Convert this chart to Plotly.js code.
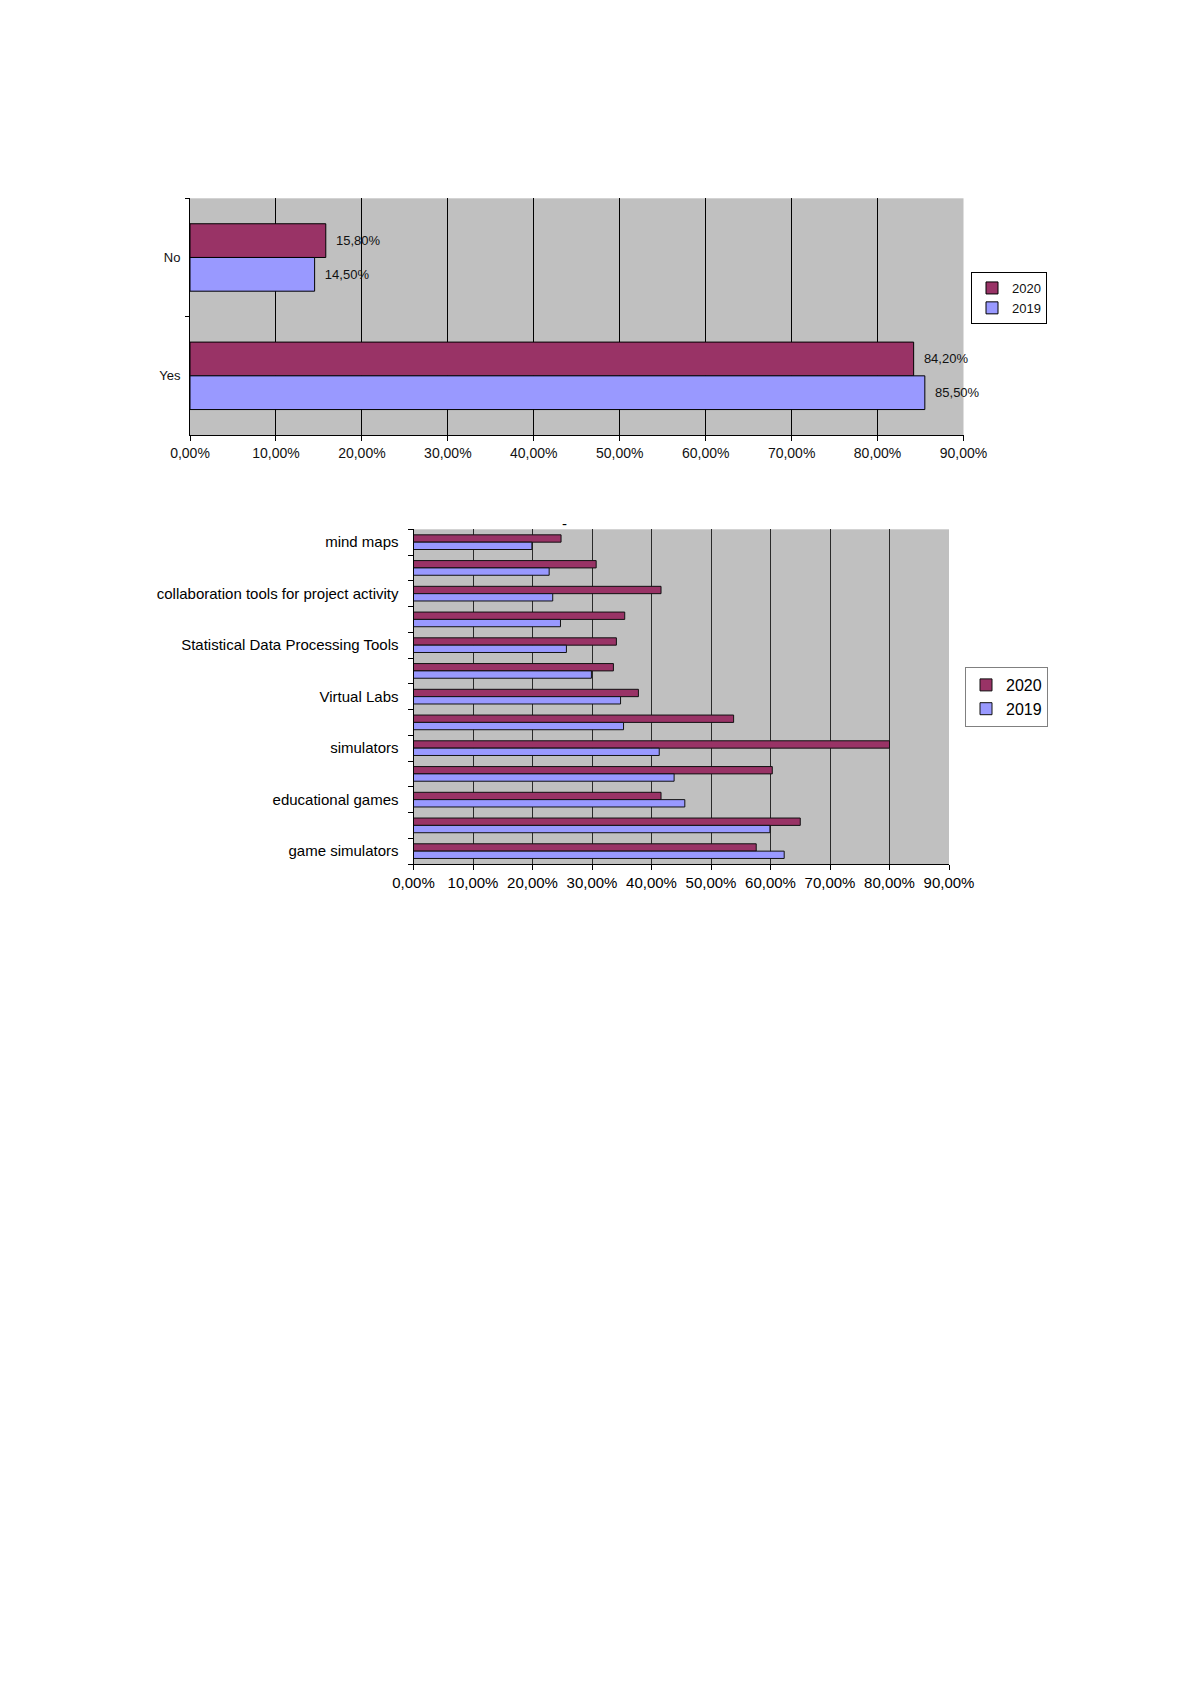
<!DOCTYPE html>
<html>
<head>
<meta charset="utf-8">
<script src="https://cdn.plot.ly/plotly-3.0.1.min.js"></script>
<style>
html,body{margin:0;padding:0;background:#ffffff;}
#chart{width:1191px;height:1684px;}
</style>
</head>
<body>
<div id="chart"></div>
<script>
// ---------- data (percent) ----------
const seriesNames = ["2020", "2019"];
const seriesColors = ["#993366", "#9999FF"];

// Chart 1
const answers = ["No", "Yes"];
const answers2020 = [15.8, 84.2];
const answers2019 = [14.5, 85.5];

// Chart 2 (top to bottom; empty label = category whose name is not printed)
const tools = ["mind maps", "", "collaboration tools for project activity", "",
  "Statistical Data Processing Tools", "", "Virtual Labs", "", "simulators", "",
  "educational games", "", "game simulators"];
const tools2020 = [24.8, 30.7, 41.6, 35.5, 34.1, 33.6, 37.8, 53.8, 80.0, 60.3, 41.6, 65.0, 57.6];
const tools2019 = [19.9, 22.8, 23.4, 24.7, 25.7, 29.9, 34.8, 35.3, 41.3, 43.8, 45.6, 59.9, 62.3];

const xTicks = [0, 10, 20, 30, 40, 50, 60, 70, 80, 90];
const chart2Title = "-";

// ---------- layout helpers ----------
const W = 1191, H = 1684;
const fx = p => p / W;
const fy = p => 1 - p / H;
const FONT = "Liberation Sans, Arial, sans-serif";
const frac = arr => arr.map(v => v / 100);   // percent -> fraction for '%' formatting

const innerTicks = frac(xTicks.slice(1, -1)); // gridlines only inside the plot
const toolIdx = tools.map((_, i) => i);
const toolBounds = tools.map((_, i) => i - 0.5).concat([tools.length - 0.5]);

const traces = [];
const chart1Values = [answers2020, answers2019];
const chart2Values = [tools2020, tools2019];

seriesNames.forEach((name, s) => {
  traces.push({
    type: "bar", orientation: "h", name: name,
    y: answers, x: frac(chart1Values[s]),
    xaxis: "x", yaxis: "y", legend: "legend",
    marker: {color: seriesColors[s], line: {color: "#000000", width: 1}},
    texttemplate: "\u00a0\u00a0%{x:.2%}",
    textposition: "outside",
    textfont: {family: FONT, size: 13, color: "#111111"},
    cliponaxis: false,
    hoverinfo: "x+name"
  });
});
seriesNames.forEach((name, s) => {
  traces.push({
    type: "bar", orientation: "h", name: name,
    y: toolIdx, x: frac(chart2Values[s]),
    xaxis: "x2", yaxis: "y2", legend: "legend2",
    marker: {color: seriesColors[s], line: {color: "#111111", width: 1}},
    hoverinfo: "x+name"
  });
});

const layout = {
  width: W, height: H,
  margin: {l: 0, r: 0, t: 0, b: 0},
  paper_bgcolor: "#ffffff",
  plot_bgcolor: "#C0C0C0",
  separators: ",.",
  barmode: "group",
  bargap: 0.43,
  bargroupgap: 0,
  font: {family: FONT, color: "#000000"},
  showlegend: true,
  xaxis: {
    domain: [fx(190), fx(963.5)], anchor: "y",
    range: [0, 0.9], tickmode: "array", tickvals: frac(xTicks),
    tickformat: ".2%",
    showgrid: false,
    minor: {tickmode: "array", tickvals: innerTicks, ticks: "", showgrid: true,
            gridcolor: "#000000", gridwidth: 1},
    zeroline: false, showline: true, linecolor: "#000000", linewidth: 1,
    ticks: "outside", ticklen: 5, tickcolor: "#000000",
    tickfont: {family: FONT, size: 14, color: "#111111"},
    fixedrange: true
  },
  yaxis: {
    domain: [fy(435), fy(198.3)], anchor: "x",
    type: "category", autorange: "reversed",
    tickson: "boundaries", ticks: "outside", ticklen: 4, tickcolor: "#000000",
    showgrid: false, zeroline: false, showline: true, linecolor: "#000000", linewidth: 1,
    tickfont: {family: FONT, size: 13, color: "#111111"},
    ticklabelstandoff: 6,
    fixedrange: true
  },
  xaxis2: {
    domain: [fx(413.5), fx(949)], anchor: "y2",
    range: [0, 0.9], tickmode: "array", tickvals: frac(xTicks),
    tickformat: ".2%",
    showgrid: false,
    minor: {tickmode: "array", tickvals: innerTicks, ticks: "", showgrid: true,
            gridcolor: "#2a2a2a", gridwidth: 1},
    zeroline: false, showline: true, linecolor: "#000000", linewidth: 1,
    ticks: "outside", ticklen: 5, tickcolor: "#000000",
    tickfont: {family: FONT, size: 15, color: "#000000"},
    fixedrange: true
  },
  yaxis2: {
    domain: [fy(864), fy(529.3)], anchor: "x2",
    range: [tools.length - 0.5, -0.5],
    tickmode: "array", tickvals: toolIdx, ticktext: tools,
    ticks: "", showgrid: false, zeroline: false,
    showline: true, linecolor: "#000000", linewidth: 1,
    minor: {tickmode: "array", tickvals: toolBounds, ticks: "outside", ticklen: 5,
            tickcolor: "#000000", showgrid: false},
    tickfont: {family: FONT, size: 15, color: "#000000"},
    ticklabelstandoff: 11,
    fixedrange: true
  },
  legend: {
    x: fx(971), xanchor: "left", y: fy(298), yanchor: "middle",
    bgcolor: "#ffffff", bordercolor: "#000000", borderwidth: 1,
    font: {family: FONT, size: 13, color: "#111111"},
    itemwidth: 30, traceorder: "normal", tracegroupgap: 0
  },
  legend2: {
    x: fx(965), xanchor: "left", y: fy(697), yanchor: "middle",
    bgcolor: "#ffffff", bordercolor: "#808080", borderwidth: 1,
    font: {family: FONT, size: 16, color: "#000000"},
    itemwidth: 30, traceorder: "normal", tracegroupgap: 0
  },
  annotations: [{
    text: chart2Title, xref: "paper", yref: "paper",
    x: fx(564), y: fy(523), xanchor: "center", yanchor: "middle",
    showarrow: false, font: {family: FONT, size: 15, color: "#000000"}
  }]
};

Plotly.newPlot("chart", traces, layout, {displayModeBar: false, responsive: false});
</script>
</body>
</html>
